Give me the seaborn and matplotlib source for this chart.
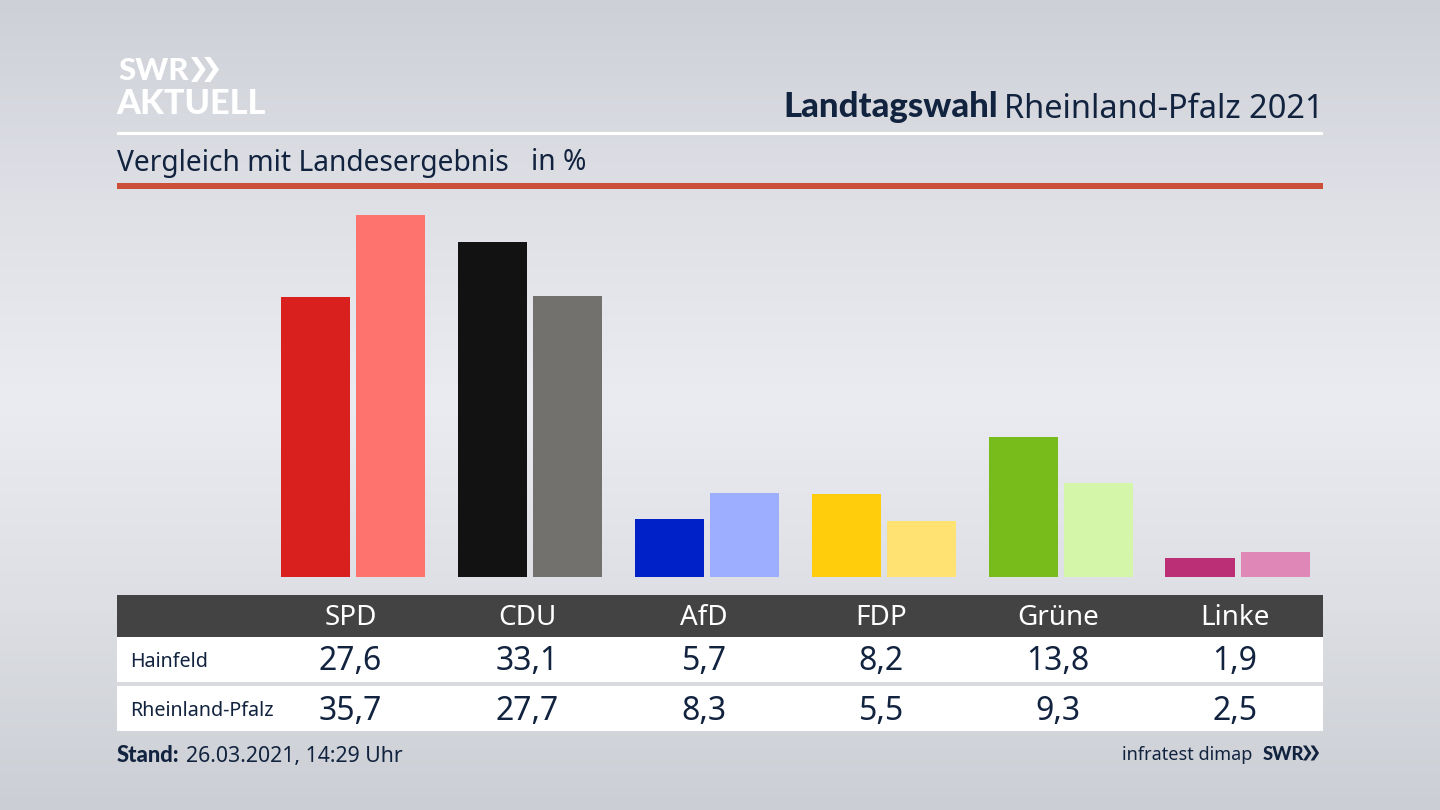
import numpy as np
import matplotlib
matplotlib.use("Agg")
import matplotlib.pyplot as plt
from matplotlib.patches import Rectangle, Polygon
import pandas as pd
import seaborn as sns

parties = ["SPD", "CDU", "AfD", "FDP", "Grüne", "Linke"]
hainfeld = [27.6, 33.1, 5.7, 8.2, 13.8, 1.9]
rlp = [35.7, 27.7, 8.3, 5.5, 9.3, 2.5]
colors_local = ["#d9201f", "#121212", "#0021c8", "#ffcd0b", "#78bc1b", "#bb2f77"]
colors_state = ["#ff736e", "#72716e", "#9dadff", "#ffe272", "#d4f6a9", "#df88b8"]

NAVY = "#12233f"
FONT = "Noto Sans"
BOLD = "Lato"
sns.set_theme(style="white")
plt.rcParams["font.family"] = [FONT, "DejaVu Sans"]

fig = plt.figure(figsize=(14.4, 8.1), dpi=100)

# pixel-space backdrop
bg = fig.add_axes([0, 0, 1, 1], zorder=0)
bg.set_xlim(0, 1440)
bg.set_ylim(810, 0)
bg.axis("off")
stops_y = np.array([0, 200, 400, 600, 810])
stops_c = np.array([[205, 208, 214], [222, 224, 230], [234, 236, 241], [221, 223, 228], [203, 206, 212]], float)
yy = np.arange(810)
grad = np.stack([np.interp(yy, stops_y, stops_c[:, k]) for k in range(3)], axis=1)[:, None, :] / 255
bg.imshow(grad, extent=(0, 1440, 810, 0), aspect="auto", zorder=0)

def rect(x0, y0, x1, y1, c):
    bg.add_patch(Rectangle((x0, y0), x1 - x0, y1 - y0, facecolor=c, edgecolor="none", zorder=1))

rect(117, 132, 1323, 135, "white")
rect(117, 183, 1323, 189, "#cc5037")
rect(117, 595, 1323, 637, "#434343")
rect(117, 637, 1323, 682, "white")
rect(117, 682, 1323, 686, "#d8dade")
rect(117, 686, 1323, 731, "white")

def txt(x, y, s, size, color=NAVY, ha="left"):
    return bg.text(x, y + 3, s, fontsize=size, color=color, ha=ha, va="center", zorder=2)

def btxt(x, y, s, size, color=NAVY, ha="left"):
    return bg.text(x, y, s, fontsize=size, color=color, ha=ha, va="center", zorder=2,
                   family=[BOLD, "DejaVu Sans"], fontweight="black")

def chevrons(x, y, h, w, t, c):
    for dx in (0, w * 0.95):
        x0 = x + dx
        bg.add_patch(Polygon([(x0, y), (x0 + t, y), (x0 + t + w * 0.62, y + h / 2),
                              (x0 + t, y + h), (x0, y + h), (x0 + w * 0.62, y + h / 2)],
                             closed=True, facecolor=c, edgecolor="none", zorder=2))

# logo
btxt(118, 71, "SWR", 22.5, "white")
chevrons(191, 57, 25, 14, 6, "white")
btxt(116.5, 104, "AKTUELL", 24.7, "white")

# header
t2 = txt(1323, 106, "Rheinland-Pfalz 2021", 23.4, ha="right")
fig.canvas.draw()
bb = t2.get_window_extent()
btxt(bb.x0 - 6, 107, "Landtagswahl", 25, ha="right")
txt(117, 160, "Vergleich mit Landesergebnis", 20.3)
txt(531, 160, "in %", 20.3)

# bars
df = pd.DataFrame({
    "Partei": parties * 2,
    "Wert": hainfeld + rlp,
    "Gebiet": ["Hainfeld"] * 6 + ["Rheinland-Pfalz"] * 6,
})
STEP = 176.9
C0 = 353.2
ax = fig.add_axes([117 / 1440, (810 - 577) / 810, 1206 / 1440, 387 / 810], zorder=1)
ax.patch.set_alpha(0)
sns.barplot(data=df, x="Partei", y="Wert", hue="Gebiet", order=parties, ax=ax,
            width=150.5 / STEP, gap=0.08, legend=False, saturation=1)
for cont, cols in zip(ax.containers, (colors_local, colors_state)):
    for bar, c in zip(cont, cols):
        bar.set_facecolor(c)
        bar.set_edgecolor("none")
ax.set_xlim((117 - C0) / STEP, (1323 - C0) / STEP)
ax.set_ylim(0, 387 / 10.13)
ax.axis("off")

# table
col_x = [350.5 + 176.9 * i for i in range(6)]
for x, p, a, b in zip(col_x, parties, hainfeld, rlp):
    txt(x, 615, p, 20, "white", ha="center")
    txt(x, 659, f"{a:.1f}".replace(".", ","), 23, ha="center")
    txt(x, 708, f"{b:.1f}".replace(".", ","), 23, ha="center")
txt(130.5, 659, "Hainfeld", 14.2)
txt(130.5, 708, "Rheinland-Pfalz", 14.2)

# footer
btxt(117, 756, "Stand:", 15.8)
txt(186, 753.5, "26.03.2021, 14:29 Uhr", 15.3)
txt(1122, 752, "infratest dimap", 13)
btxt(1263, 754, "SWR", 13.2)
chevrons(1303, 745.5, 15, 8, 3.5, NAVY)

fig.savefig("out.png", dpi=100)
